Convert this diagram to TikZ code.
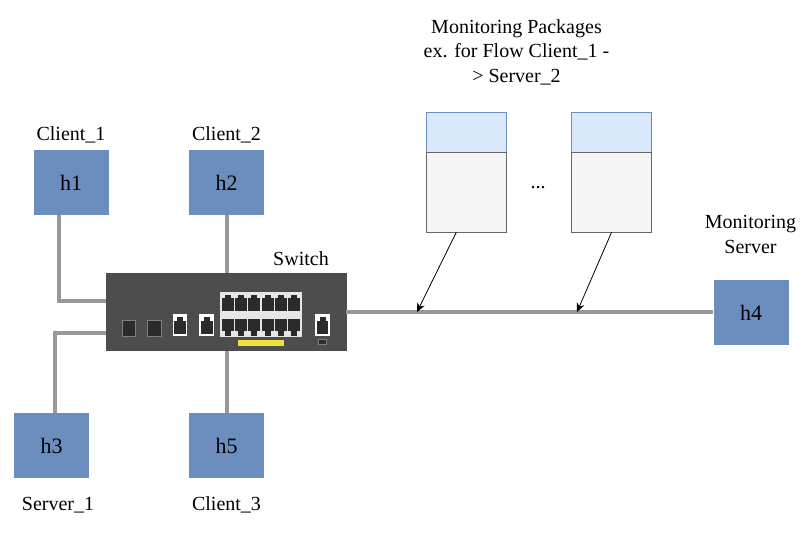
\documentclass[tikz,border=0pt]{standalone}
\usepackage{fontspec}
\setmainfont{Liberation Serif}
\usetikzlibrary{arrows.meta}
\definecolor{hostblue}{HTML}{6C8EBF}
\definecolor{headblue}{HTML}{DAE8FC}
\definecolor{bodygray}{HTML}{F5F5F5}
\definecolor{linegray}{HTML}{666666}
\definecolor{wiregray}{HTML}{999999}
\definecolor{switchgray}{HTML}{4D4D4D}
\definecolor{portdark}{HTML}{2B2B2B}
\definecolor{panelgray}{HTML}{E6E6E6}
\definecolor{ledyellow}{HTML}{F2E03A}
\tikzset{
  host/.style={fill=hostblue, minimum width=75pt, minimum height=65pt, inner sep=0pt, font=\fontsize{22}{26}\selectfont},
  pkghead/.style={draw=hostblue, line width=0.8pt, fill=headblue, minimum width=80pt, minimum height=40pt, inner sep=0pt},
  pkgbody/.style={draw=linegray, line width=0.8pt, fill=bodygray, minimum width=80pt, minimum height=80pt, inner sep=0pt},
  wire/.style={draw=wiregray, line width=4pt},
  tap/.style={line width=0.8pt, -{Stealth[length=9pt, width=8pt]}},
  label/.style={align=center, font=\fontsize{20}{24.5}\selectfont, inner sep=0pt},
  port/.style={fill=portdark}
}
\begin{document}
\begin{tikzpicture}[x=1pt, y=-1pt]
\useasboundingbox (0,0) rectangle (811,536);
% hosts
\node[host] (h1) at (71,182.5) {h1};
\node[host] (h2) at (226.5,182.5) {h2};
\node[host] (h3) at (51.5,445.5) {h3};
\node[host] (h5) at (226.5,445.5) {h5};
\node[host] (h4) at (751,312.5) {h4};
% switch
\node[fill=switchgray, draw=black!70, minimum width=240.5pt, minimum height=77pt, inner sep=0pt] (switch) at (226,312) {};
% wires
\draw[wire] ([xshift=-12pt]h1.south) |- ([yshift=11pt]switch.west);
\draw[wire] (h2.south) -- (h2.south |- switch.north);
\draw[wire] ([xshift=3.5pt]h3.north) |- ([yshift=-20.5pt]switch.west);
\draw[wire] (h5.north) -- (h5.north |- switch.south);
\draw[wire] (switch.east) -- (h4.west |- switch.east);
% ports
\fill[panelgray] (220,292) rectangle (302,337);
\foreach \x in {228,241.3,254.3,267.7,281,294} {
  \fill[port] (\x-6,298) rectangle (\x+6,311);
  \fill[port] (\x-3,294.5) rectangle (\x+3,299);
  \fill[port] (\x-6,319) rectangle (\x+6,331);
  \fill[port] (\x-3,330) rectangle (\x+3,336);
}
\foreach \x in {128.8,154.1} {
  \fill[port, draw=gray] (\x-6.8,320) rectangle (\x+6.8,336.5);
}
\foreach \x in {180,206.7,322.5} {
  \fill[white] (\x-7.3,314) rectangle (\x+7.3,336);
  \fill[port] (\x-5.8,321) rectangle (\x+5.8,333.5);
  \fill[port] (\x-3,316.5) rectangle (\x+3,322);
}
\fill[ledyellow] (238,340) rectangle (283.5,346);
\fill[portdark, draw=gray] (318.5,339.5) rectangle (326.5,344);
% packages
\node[pkghead] (head1) at (466.3,132) {};
\node[pkgbody] (body1) at (466.3,192) {};
\node[pkghead] (head2) at (611.5,132) {};
\node[pkgbody] (body2) at (611.5,192) {};
\coordinate (tap1) at (417,312);
\coordinate (tap2) at (577,312);
\draw[tap] (body1.256) -- (tap1);
\draw[tap] (body2.south) -- (tap2);
% labels
\node[label] (client1) at (71,135) {Client\_1};
\node[label] (client2) at (226.5,135) {Client\_2};
\node[label] (server1) at (58,505) {Server\_1};
\node[label] (client3) at (226.5,505) {Client\_3};
\node[label] (switchlabel) at (301,259) {Switch};
\node[label] (monitor) at (750.5,234.5) {Monitoring\\Server};
\node[label] (packages) at (516.5,52) {Monitoring Packages\\ex. for Flow Client\_1 -\\> Server\_2};
\node[label] (dots) at (538,188) {...};
\end{tikzpicture}
\end{document}
